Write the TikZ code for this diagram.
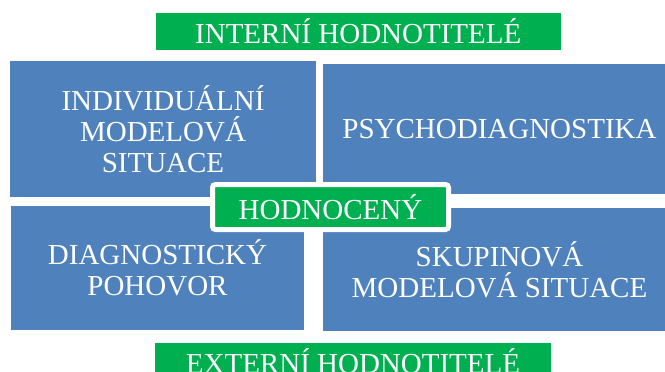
\documentclass[tikz,border=0pt]{standalone}
\usepackage{fontspec}
\setmainfont{Liberation Serif}
\usepackage{xcolor}
\usetikzlibrary{positioning}

\definecolor{modra}{HTML}{4F81BD}
\definecolor{zelena}{HTML}{00B050}

\tikzset{
	blok/.style={rectangle, fill=modra, text=white, inner sep=0pt, align=center,
		font=\fontsize{29}{31}\selectfont},
	lista/.style={rectangle, fill=zelena, text=white, inner sep=0pt, align=center,
		font=\fontsize{29}{31}\selectfont},
}

\begin{document}
\begin{tikzpicture}[x=1pt, y=-1pt]
		\useasboundingbox (0,0) rectangle (665,372);
		\clip (0,0) rectangle (665,372);
		
		% Hodnotitele
		\node[lista, minimum width=405.5pt, minimum height=37pt] (interni) at (358.25,31.5) {INTERNÍ HODNOTITELÉ};
		\node[lista, minimum width=396pt, minimum height=37pt] (externi) at (353,361.5) {EXTERNÍ HODNOTITELÉ};
		
		% Metody
		\node[blok, minimum width=306pt, minimum height=136pt] (individ) at (163,129) {INDIVIDUÁLNÍ\\MODELOVÁ\\SITUACE};
		\node[blok, minimum width=353pt, minimum height=130pt] (psycho) at (499.5,129) {PSYCHODIAGNOSTIKA};
		\node[blok, minimum width=293pt, minimum height=124pt] (diag) at (157.5,268) {DIAGNOSTICKÝ\\POHOVOR};
		\node[blok, minimum width=353pt, minimum height=123pt] (skup) at (499.5,269.5) {SKUPINOVÁ\\MODELOVÁ SITUACE};
		
		% Hodnoceny uprostred
		\node[lista, draw=white, line width=5pt, rounded corners=3pt,
			minimum width=236pt, minimum height=45pt] (hodnoceny) at (330.5,207) {HODNOCENÝ};
	  \end{tikzpicture}
\end{document}
